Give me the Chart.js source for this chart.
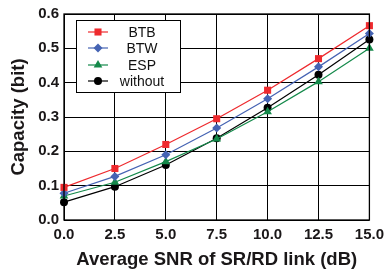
<!DOCTYPE html>
<html>
<head>
<meta charset="utf-8">
<script src="https://cdn.jsdelivr.net/npm/chart.js@4/dist/chart.umd.min.js"></script>
<style>
html,body{margin:0;padding:0;background:#fff;}
#wrap{width:390px;height:273px;position:relative;}
</style>
</head>
<body>
<div id="wrap"><canvas id="c" width="390" height="273"></canvas></div>
<script>
const snr = [0, 2.5, 5.0, 7.5, 10.0, 12.5, 15.0];
const btb = [0.095, 0.150, 0.220, 0.295, 0.378, 0.470, 0.566];
const btw = [0.078, 0.127, 0.190, 0.268, 0.353, 0.446, 0.543];
const esp = [0.070, 0.110, 0.170, 0.236, 0.315, 0.403, 0.500];
const without = [0.052, 0.097, 0.160, 0.238, 0.327, 0.423, 0.526];
const seriesNames = ['BTB', 'BTW', 'ESP', 'without'];
const xTitle = 'Average SNR of SR/RD link (dB)';
const yTitle = 'Capacity (bit)';

function pts(ys){ return snr.map((x,i)=>({x:x,y:ys[i]})); }

const styles = [
  {color:'#ee2a2e', style:'rect', r:5},
  {color:'#4563b3', style:'rectRot', r:4.5},
  {color:'#14894a', style:'triangle', r:5},
  {color:'#000000', style:'circle', r:4}
];
const seriesData = [btb, btw, esp, without];

const datasets = seriesData.map((d,i)=>({
  label: seriesNames[i],
  data: pts(d),
  borderColor: styles[i].color,
  backgroundColor: styles[i].color,
  pointBackgroundColor: styles[i].color,
  pointBorderColor: styles[i].color,
  pointStyle: styles[i].style,
  pointRadius: styles[i].r,
  borderWidth: 1.2,
  pointBorderWidth: 0,
  clip: false,
  tension: 0
}));

const legendPlugin = {
  id: 'customLegend',
  afterDraw(chart){
    const ctx = chart.ctx;
    ctx.save();
    const x0 = 76, y0 = 20, w = 104, h = 72;
    ctx.fillStyle = '#fff';
    ctx.fillRect(x0, y0, w, h);
    ctx.strokeStyle = '#000';
    ctx.lineWidth = 1;
    ctx.strokeRect(x0+0.5, y0+0.5, w, h);
    const rows = [32, 48, 65, 81];
    ctx.font = '14px "Liberation Sans", Arial, sans-serif';
    ctx.textAlign = 'center';
    ctx.textBaseline = 'middle';
    chart.data.datasets.forEach((ds,i)=>{
      const y = rows[i];
      ctx.strokeStyle = ds.borderColor;
      ctx.lineWidth = 1.2;
      ctx.beginPath(); ctx.moveTo(88, y); ctx.lineTo(108, y); ctx.stroke();
      ctx.fillStyle = ds.backgroundColor;
      ctx.strokeStyle = ds.borderColor;
      Chart.helpers.drawPoint(ctx, {pointStyle: ds.pointStyle, radius: ds.pointRadius, rotation: 0, borderWidth: 0}, 98, y);
      ctx.fillStyle = '#111';
      ctx.fillText(ds.label, 142, y + 1);
    });
    ctx.restore();
  }
};

const borderPlugin = {
  id: 'frame',
  afterDraw(chart){
    const a = chart.chartArea, ctx = chart.ctx;
    ctx.save();
    ctx.strokeStyle = '#000';
    ctx.lineWidth = 1.3;
    ctx.strokeRect(a.left, a.top, a.right - a.left, a.bottom - a.top);
    ctx.restore();
  }
};

new Chart(document.getElementById('c'), {
  type: 'line',
  data: { datasets: datasets },
  options: {
    responsive: false,
    animation: false,
    layout: { padding: { top: 12, right: 15, left: 0, bottom: 0 } },
    plugins: { legend: { display: false }, tooltip: { enabled: false } },
    scales: {
      x: {
        type: 'linear', min: 0, max: 15,
        ticks: { stepSize: 2.5, color: '#1a1718', font: { family: '"Liberation Sans", Arial', size: 15, weight: 'bold' },
          callback: v => Number(v).toFixed(1), padding: 6, maxRotation: 0 },
        grid: { color: '#000', lineWidth: 1, borderDash: [1.5, 3], drawTicks: false },
        border: { display: false },
        title: { display: true, text: xTitle, color: '#1a1718', font: { family: '"Liberation Sans", Arial', size: 18.5, weight: 'bold' }, padding: { top: 2, bottom: 2 } },
        afterFit(s){ s.height = 53; }
      },
      y: {
        min: 0, max: 0.6,
        ticks: { stepSize: 0.1, color: '#1a1718', font: { family: '"Liberation Sans", Arial', size: 15, weight: 'bold' },
          callback: v => Number(v).toFixed(1), padding: 5 },
        grid: { color: '#000', lineWidth: 1, borderDash: [1.5, 3], drawTicks: false },
        border: { display: false },
        title: { display: true, text: yTitle, color: '#1a1718', font: { family: '"Liberation Sans", Arial', size: 18.5, weight: 'bold' }, padding: { top: 8, bottom: 0 } },
        afterFit(s){ s.width = 64; }
      }
    }
  },
  plugins: [borderPlugin, legendPlugin]
});
</script>
</body>
</html>
